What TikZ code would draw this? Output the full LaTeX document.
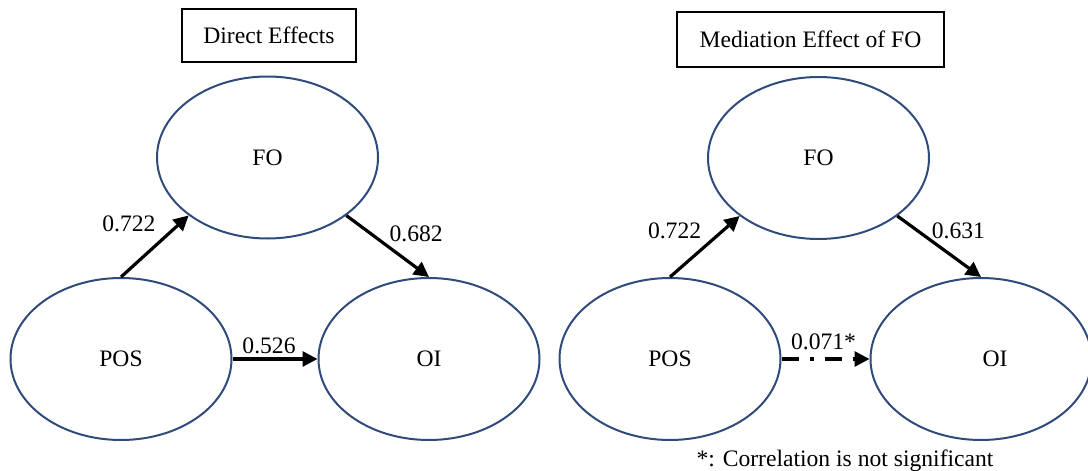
\documentclass[tikz,border=0pt]{standalone}
\usepackage{fontspec}
\setmainfont{Liberation Serif}
\usetikzlibrary{arrows.meta,shapes.geometric}
\definecolor{ovalblue}{RGB}{47,75,124}

\begin{document}
\begin{tikzpicture}[x=0.5pt,y=-0.5pt,>={Triangle[length=7.5pt,width=7.5pt]},
  txt/.style={font=\fontsize{11.8}{14}\selectfont},
  oval/.style={txt,ellipse,draw=ovalblue,line width=1pt,minimum width=\OvalW,minimum height=\OvalH,inner sep=0pt},
  titlebox/.style={txt,draw,line width=0.6pt},
  path/.style={->,line width=1.6pt},
  lbl/.style={txt,inner sep=1pt}]
  \newcommand*{\OvalW}{110.5pt}
  \newcommand*{\OvalH}{81pt}
  \useasboundingbox (0,0) rectangle (1088,471);
  \node[titlebox, minimum width=87pt, minimum height=26.5pt] (ttldirect) at (269,35.5) {Direct Effects};
  \node[titlebox, minimum width=133.5pt, minimum height=27.5pt] (ttlmed) at (810.5,39.5) {Mediation Effect of FO};
  \node[oval] (lfo) at (267.5,157.5) {FO};
  \node[oval] (lpos) at (121,359) {POS};
  \node[oval] (loi) at (429,359) {OI};
  \node[oval] (rfo) at (818.5,158) {FO};
  \node[oval] (rpos) at (670,359) {POS};
  \node[oval] (roi) at (981,359) {\hspace*{14pt}OI};
  \draw[path] (lpos.north) -- (lfo.south west) node[lbl, pos=0.68, anchor=south east, xshift=-4pt] (lposfo) {0.722};
  \draw[path] (lfo.south east) -- (loi.north) node[lbl, pos=0.48, anchor=south west] (lfooi) {0.682};
  \draw[path] (lpos.east) -- (loi.west) node[lbl, midway, anchor=south, xshift=-3pt, yshift=1pt] (lposoi) {0.526};
  \draw[path] (rpos.north) -- (rfo.south west) node[lbl, pos=0.57, anchor=south east, xshift=-2.5pt] (rposfo) {0.722};
  \draw[path] (rfo.south east) -- (roi.north) node[lbl, pos=0.43, anchor=south west, xshift=-2.5pt] (rfooi) {0.631};
  \draw[path, dash pattern=on 8.5pt off 5.5pt on 2pt off 5.5pt] (rpos.east) -- (roi.west) node[lbl, midway, anchor=south, xshift=-1pt, yshift=3pt] (rposoi) {0.071*};
  \node[txt, anchor=base] (note) at (845,466) {*: Correlation is not significant};
\end{tikzpicture}
\end{document}
